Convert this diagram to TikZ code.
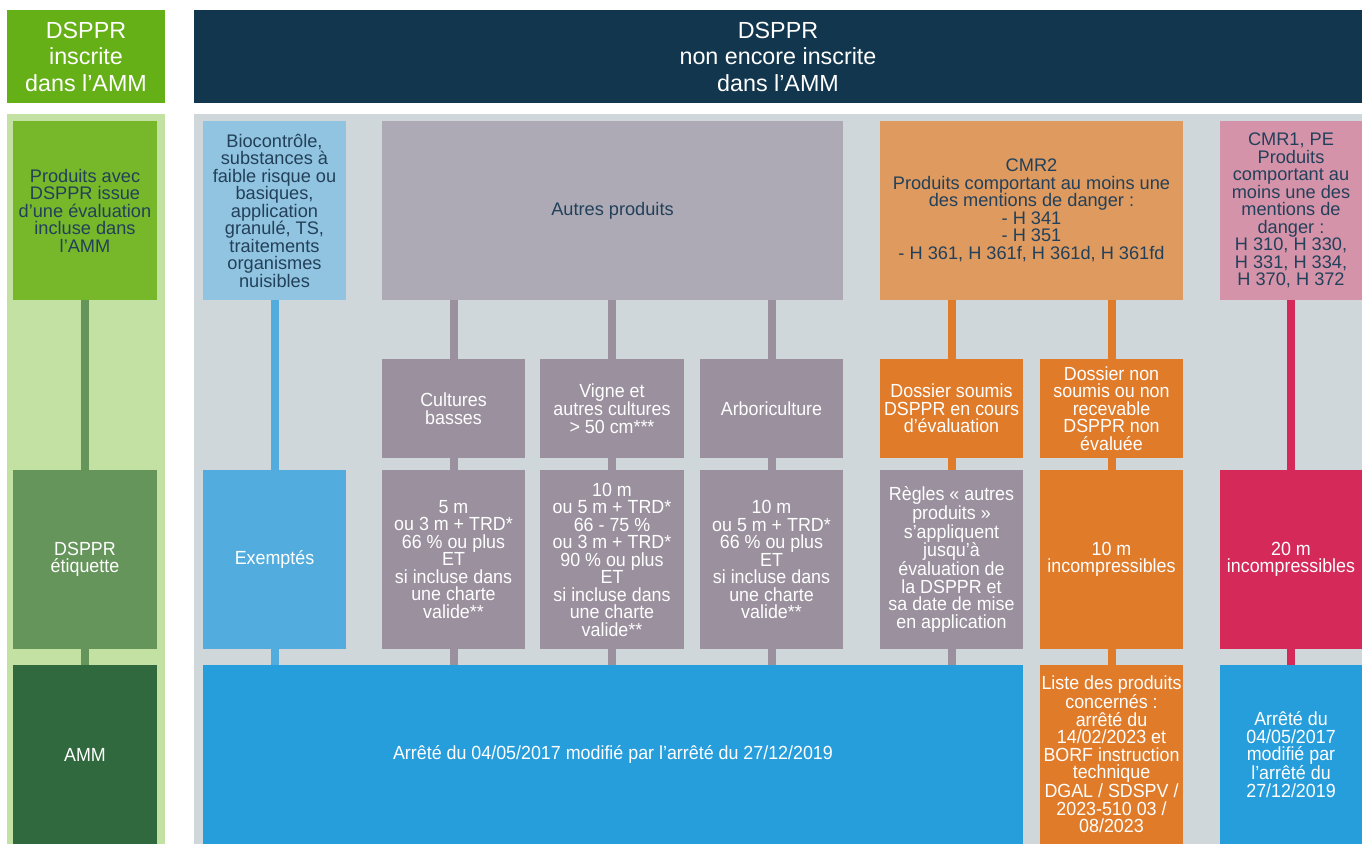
\documentclass[tikz,border=0pt]{standalone}
\usepackage{fontspec}
\setmainfont{Liberation Sans}
\newfontfamily\nrw[FakeStretch=0.94]{Liberation Sans}
\definecolor{hgreen}{HTML}{65B016}
\definecolor{hnavy}{HTML}{12364D}
\definecolor{pgreen}{HTML}{C3E1A3}
\definecolor{bgreen}{HTML}{76B82A}
\definecolor{egreen}{HTML}{66955B}
\definecolor{dgreen}{HTML}{30693D}
\definecolor{pgray}{HTML}{CFD7DB}
\definecolor{lblue}{HTML}{91C4E0}
\definecolor{mblue}{HTML}{52ADDE}
\definecolor{dblue}{HTML}{279EDC}
\definecolor{lgray}{HTML}{ADAAB5}
\definecolor{dgray}{HTML}{9A909E}
\definecolor{lorange}{HTML}{DE9A5F}
\definecolor{orange}{HTML}{E07B2A}
\definecolor{pink}{HTML}{D593A9}
\definecolor{crimson}{HTML}{D5295A}
\definecolor{tnavy}{HTML}{23405A}
\newcommand\mybox[7]{\pgfmathsetmacro\bw{#4-#2}\pgfmathsetmacro\bh{#5-#3}%
  \pgfmathsetmacro\cx{(#2+#4)/2}\pgfmathsetmacro\cy{(#3+#5)/2}%
  \node[box,#6,minimum width=\bw pt,minimum height=\bh pt] (#1) at (\cx,\cy) {#7};}
\begin{document}
\begin{tikzpicture}[x=1pt,y=-1pt,
  box/.style={inner sep=0pt, draw=none, align=center, anchor=center},
  dark/.style={text=tnavy, font=\fontsize{18.2}{17.5}\selectfont},
  light/.style={text=white, font=\nrw\fontsize{19}{17.5}\selectfont},
  head/.style={text=white, font=\fontsize{23.3}{26.5}\selectfont},
  link/.style={line width=8pt}]
\useasboundingbox (0,0) rectangle (1362,844);
% panels
\mybox{hl}{7}{10}{165}{103}{fill=hgreen,head}{DSPPR\\inscrite\\dans l’AMM}
\mybox{hr}{194}{10}{1362}{103}{fill=hnavy,head}{DSPPR\\non encore inscrite\\dans l’AMM}
\mybox{pl}{7}{114}{165}{844}{fill=pgreen}{}
\mybox{pr}{194}{114}{1362}{844}{fill=pgray}{}
% left column
\mybox{prod}{13}{121}{157}{300}{fill=bgreen,dark}{Produits avec\\DSPPR issue\\d’une évaluation\\incluse dans\\l’AMM}
\mybox{etq}{13}{470}{157}{649}{fill=egreen,light}{DSPPR\\étiquette}
\mybox{amm}{13}{665}{157}{844}{fill=dgreen,light}{AMM}
% top row
\mybox{bio}{203}{121}{346}{300}{fill=lblue,dark}{Biocontrôle,\\substances à\\faible risque ou\\basiques,\\application\\granulé, TS,\\traitements\\organismes\\nuisibles}
\mybox{autres}{382}{121}{843}{300}{fill=lgray,dark}{Autres produits}
\mybox{cmr2}{880}{121}{1183}{300}{fill=lorange,dark}{CMR2\\Produits comportant au moins une\\des mentions de danger :\\- H 341\\- H 351\\- H 361, H 361f, H 361d, H 361fd}
\mybox{cmr1}{1220}{121}{1362}{300}{fill=pink,dark}{CMR1, PE\\Produits\\comportant au\\moins une des\\mentions de\\danger :\\H 310, H 330,\\H 331, H 334,\\H 370, H 372}
% second row
\mybox{cb}{382}{359}{525}{458}{fill=dgray,light}{Cultures\\basses}
\mybox{vi}{540}{359}{684}{458}{fill=dgray,light}{Vigne et\\autres cultures\\> 50 cm***}
\mybox{ar}{700}{359}{843}{458}{fill=dgray,light}{Arboriculture}
\mybox{ds}{880}{359}{1023}{458}{fill=orange,light}{Dossier soumis\\DSPPR en cours\\d’évaluation}
\mybox{dn}{1040}{359}{1183}{458}{fill=orange,light}{Dossier non\\soumis ou non\\recevable\\DSPPR non\\évaluée}
% third row
\mybox{exe}{203}{470}{346}{649}{fill=mblue,light}{Exemptés}
\mybox{rcb}{382}{470}{525}{649}{fill=dgray,light}{5 m\\ou 3 m + TRD*\\66 \% ou plus\\ET\\si incluse dans\\une charte\\valide**}
\mybox{rvi}{540}{470}{684}{649}{fill=dgray,light}{10 m\\ou 5 m + TRD*\\66 - 75 \%\\ou 3 m + TRD*\\90 \% ou plus\\ET\\si incluse dans\\une charte\\valide**}
\mybox{rar}{700}{470}{843}{649}{fill=dgray,light}{10 m\\ou 5 m + TRD*\\66 \% ou plus\\ET\\si incluse dans\\une charte\\valide**}
\mybox{rds}{880}{470}{1023}{649}{fill=dgray,light}{Règles « autres\\produits »\\s’appliquent\\jusqu’à\\évaluation de\\la DSPPR et\\sa date de mise\\en application}
\mybox{rdn}{1040}{470}{1183}{649}{fill=orange,light}{10 m\\incompressibles}
\mybox{rc1}{1220}{470}{1362}{649}{fill=crimson,light}{20 m\\incompressibles}
% bottom row
\mybox{arr}{203}{665}{1023}{844}{fill=dblue,light}{Arrêté du 04/05/2017 modifié par l’arrêté du 27/12/2019}
\mybox{liste}{1040}{665}{1183}{844}{fill=orange,light}{Liste des produits\\concernés :\\arrêté du\\14/02/2023 et\\BORF instruction\\technique\\DGAL / SDSPV /\\2023-510 03 /\\08/2023}
\mybox{arr2}{1220}{665}{1362}{844}{fill=dblue,light}{Arrêté du\\04/05/2017\\modifié par\\l’arrêté du\\27/12/2019}
% connectors
\draw[link,egreen] (prod.south) -- (etq.north);
\draw[link,egreen] (etq.south) -- (amm.north);
\draw[link,mblue] (bio.south) -- (exe.north);
\draw[link,mblue] (exe.south) -- (exe.south |- arr.north);
\foreach \n in {cb,vi,ar}{\draw[link,dgray] (autres.south -| \n.north) -- (\n.north);
  \draw[link,dgray] (\n.south) -- (r\n.north);
  \draw[link,dgray] (r\n.south) -- (r\n.south |- arr.north);}
\draw[link,orange] (cmr2.south -| ds.north) -- (ds.north);
\draw[link,orange] (cmr2.south -| dn.north) -- (dn.north);
\draw[link,orange] (ds.south) -- (rds.north);
\draw[link,dgray] (rds.south) -- (rds.south |- arr.north);
\draw[link,orange] (dn.south) -- (rdn.north);
\draw[link,orange] (rdn.south) -- (liste.north);
\draw[link,crimson] (cmr1.south) -- (rc1.north);
\draw[link,crimson] (rc1.south) -- (arr2.north);
\end{tikzpicture}
\end{document}
